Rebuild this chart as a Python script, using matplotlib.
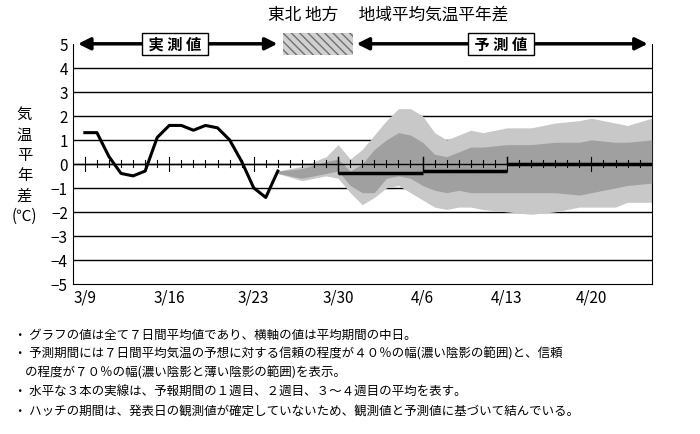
import matplotlib
matplotlib.use("Agg")
import matplotlib.pyplot as plt
from matplotlib.patches import Rectangle

plt.rcParams["font.family"] = ["Noto Sans CJK JP", "DejaVu Sans"]

# 日数は 3/9 を 0 とする
jours_obs = list(range(0, 17))
valeurs_obs = [1.3, 1.3, 0.3, -0.4, -0.5, -0.3, 1.1, 1.6, 1.6, 1.4, 1.6, 1.5, 1.0, 0.1, -1.0, -1.4, -0.3]

jours_prev = [16, 18, 20, 21, 22, 23, 24, 25, 26, 27, 28, 29, 30, 31, 32, 33, 35, 37, 39, 41, 42, 44, 45, 47]
clair_haut = [-0.3, -0.1, 0.3, 0.8, 0.2, 0.6, 1.2, 1.8, 2.3, 2.3, 2.0, 1.3, 1.0, 1.2, 1.4, 1.3, 1.5, 1.5, 1.7, 1.8, 1.9, 1.7, 1.6, 1.9]
clair_bas = [-0.4, -0.7, -0.5, -0.6, -1.2, -1.7, -1.4, -1.0, -0.9, -1.2, -1.5, -1.8, -1.9, -1.8, -1.8, -1.9, -2.0, -2.1, -2.0, -1.8, -1.8, -1.8, -1.6, -1.6]
fonce_haut = [-0.3, -0.2, 0.1, 0.2, -0.3, 0.0, 0.6, 1.0, 1.3, 1.2, 0.9, 0.4, 0.3, 0.5, 0.7, 0.7, 0.8, 0.8, 0.9, 0.9, 1.0, 0.9, 0.9, 1.0]
fonce_bas = [-0.4, -0.6, -0.4, -0.3, -0.9, -1.2, -1.2, -0.6, -0.5, -0.6, -0.9, -1.1, -1.2, -1.1, -1.2, -1.2, -1.2, -1.2, -1.2, -1.3, -1.2, -1.0, -0.9, -0.8]

semaines_debut = [21, 28, 35]
semaines_fin = [28, 35, 47]
semaines_valeur = [-0.4, -0.3, 0.0]

positions_dates = [0, 7, 14, 21, 28, 35, 42]
etiquettes_dates = ["3/9", "3/16", "3/23", "3/30", "4/6", "4/13", "4/20"]

notes = [
    "・ グラフの値は全て７日間平均値であり、横軸の値は平均期間の中日。",
    "・ 予測期間には７日間平均気温の予想に対する信頼の程度が４０％の幅(濃い陰影の範囲)と、信頼",
    "    の程度が７０％の幅(濃い陰影と薄い陰影の範囲)を表示。",
    "・ 水平な３本の実線は、予報期間の１週目、２週目、３～４週目の平均を表す。",
    "・ ハッチの期間は、発表日の観測値が確定していないため、観測値と予測値に基づいて結んでいる。",
]

fig = plt.figure(figsize=(7, 4.35), dpi=100)
ax = fig.add_axes([0.104, 0.345, 0.827, 0.552])
ax.set_xlim(-1, 47)
ax.set_ylim(-5, 5)

for y in range(-4, 5):
    ax.axhline(y, color="black", lw=1, zorder=1)

ax.fill_between(jours_prev, clair_bas, clair_haut, color="#c8c8c8", lw=0, zorder=2)
ax.fill_between(jours_prev, fonce_bas, fonce_haut, color="#a0a0a0", lw=0, zorder=3)

# axe zéro avec graduations journalières
ax.axhline(0, color="black", lw=1, zorder=4)
for j in range(0, 47):
    h = 0.3 if j % 7 == 0 else 0.15
    ax.plot([j, j], [-h, h], color="black", lw=0.8, zorder=4)

ax.plot(jours_obs, valeurs_obs, color="black", lw=2.2, zorder=5)
for d, f, v in zip(semaines_debut, semaines_fin, semaines_valeur):
    ax.plot([d, f], [v, v], color="black", lw=2.5, zorder=5, solid_capstyle="butt")
    ax.plot([d, d], [v, 0.3], color="black", lw=1, zorder=5)

ax.spines["top"].set_visible(False)
ax.set_yticks(range(-5, 6))
ax.set_xticks(positions_dates)
ax.set_xticklabels(etiquettes_dates, fontsize=11)
ax.tick_params(length=0, labelsize=11)

# flèches et hachure au-dessus
kw = dict(arrowstyle="<|-|>", color="black", lw=2.5, mutation_scale=18)
ax.annotate("", xy=(-0.8, 5), xytext=(16.2, 5), arrowprops=kw, annotation_clip=False)
ax.annotate("", xy=(22.3, 5), xytext=(46.9, 5), arrowprops=kw, annotation_clip=False)
ax.add_patch(Rectangle((16.4, 4.55), 5.8, 0.9, hatch="\\\\\\\\", facecolor="#d0d0d0",
                       edgecolor="#707070", lw=0, clip_on=False, zorder=6))
box = dict(boxstyle="square,pad=0.2", fc="white", ec="black", lw=1)
ax.text(7.5, 5, " 実 測 値 ", ha="center", va="center", fontsize=11, fontweight="bold", bbox=box)
ax.text(34.5, 5, " 予 測 値 ", ha="center", va="center", fontsize=11, fontweight="bold", bbox=box)

fig.text(0.555, 0.965, "東北 地方　 地域平均気温平年差", ha="center", va="center", fontsize=12)
fig.text(0.035, 0.62, "気\n温\n平\n年\n差\n(℃)", ha="center", va="center", fontsize=11, linespacing=1.25)

y0 = 0.245
for n in notes:
    fig.text(0.02, y0, n, fontsize=9, va="top")
    y0 -= 0.044

fig.savefig("out.png", dpi=100)
